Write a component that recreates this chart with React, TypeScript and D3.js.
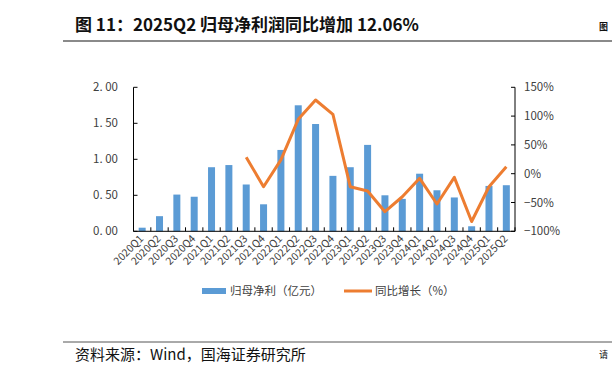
import React from "react";
import * as d3 from "d3";

const categories = ["2020Q1","2020Q2","2020Q3","2020Q4","2021Q1","2021Q2","2021Q3","2021Q4","2022Q1","2022Q2","2022Q3","2022Q4","2023Q1","2023Q2","2023Q3","2023Q4","2024Q1","2024Q2","2024Q3","2024Q4","2025Q1","2025Q2"];
const profit = [0.05,0.21,0.51,0.48,0.89,0.92,0.65,0.375,1.13,1.75,1.49,0.77,0.89,1.20,0.50,0.45,0.80,0.57,0.47,0.07,0.63,0.64];
const yoy: (number | null)[] = [null,null,null,null,null,null,28.5,-22.6,24,94.4,128,103,-22.6,-30,-66,-40,-8,-52.6,-6.3,-83,-22.6,12.06];
const leftTicks = [0,0.5,1,1.5,2];
const leftTickLabels = ["0. 00","0. 50","1. 00","1. 50","2. 00"];
const rightTicks = [-100,-50,0,50,100,150];
const rightTickLabels = ["\u2212100%","\u221250%","0%","50%","100%","150%"];
const legendLabels = ["归母净利（亿元）","同比增长（%）"];
const title = "图 11：2025Q2 归母净利润同比增加 12.06%";
const source = "资料来源：Wind，国海证券研究所";

const W = 612, H = 378;
const left = 133.5, right = 515, top = 87.3, bottom = 231.3;
const BLUE = "#5B9BD5", ORANGE = "#ED7D31";
const FONT = "'Noto Sans CJK SC', 'Liberation Sans', Arial, sans-serif";

export default function App() {
  const x = d3.scaleBand<string>().domain(categories).range([left, right]).paddingInner(0).paddingOuter(0);
  const yL = d3.scaleLinear().domain([0, 2]).range([bottom, top]);
  const yR = d3.scaleLinear().domain([-100, 150]).range([bottom, top]);
  const bw = 7;
  const line = d3.line<[string, number | null]>()
    .defined(d => d[1] !== null)
    .x(d => (x(d[0]) as number) + x.bandwidth() / 2)
    .y(d => yR(d[1] as number));
  const pts = categories.map((c, i) => [c, yoy[i]] as [string, number | null]);
  const tickXs = categories.map(c => x(c) as number).concat([right]);

  return (
    <svg width={W} height={H} style={{ position: "absolute", left: 0, top: 0, background: "#fff" }} fontFamily={FONT}>
      <rect width={W} height={H} fill="#fff" />
      {/* title */}
      <text x={75} y={31} fontSize={17} fontWeight="bold" fill="#111">{title}</text>
      <text x={599} y={30} fontSize={9} fontWeight="bold" fill="#111">图</text>
      <line x1={63} x2={612} y1={41} y2={41} stroke="#8a8a8a" strokeWidth={2} />
      {/* bars */}
      {categories.map((c, i) => (
        <rect key={c} x={(x(c) as number) + x.bandwidth() / 2 - bw / 2} y={yL(profit[i])} width={bw} height={bottom - yL(profit[i])} fill={BLUE} />
      ))}
      {/* axes */}
      <line x1={left} x2={left} y1={top} y2={bottom} stroke="#000" strokeWidth={1} />
      <line x1={right} x2={right} y1={top} y2={bottom} stroke="#000" strokeWidth={1} />
      <line x1={left} x2={right} y1={bottom} y2={bottom} stroke="#000" strokeWidth={1} />
      {leftTicks.map((t, i) => (
        <g key={"l" + t}>
          <line x1={left} x2={left + 4} y1={yL(t)} y2={yL(t)} stroke="#000" />
          <text x={118} y={yL(t)} dy="0.35em" textAnchor="end" fontSize={11.5} fill="#404040">{leftTickLabels[i]}</text>
        </g>
      ))}
      {rightTicks.map((t, i) => (
        <g key={"r" + t}>
          <line x1={right - 4} x2={right} y1={yR(t)} y2={yR(t)} stroke="#000" />
          <text x={524} y={yR(t)} dy="0.35em" textAnchor="start" fontSize={11.5} fill="#404040">{rightTickLabels[i]}</text>
        </g>
      ))}
      {tickXs.map((tx, i) => (
        <line key={"t" + i} x1={tx} x2={tx} y1={bottom} y2={bottom - 4} stroke="#000" />
      ))}
      {categories.map(c => {
        const cx = (x(c) as number) + x.bandwidth() / 2 + 2;
        const cy = bottom + 8;
        return (
          <text key={"x" + c} x={cx} y={cy} textAnchor="end" fontSize={10.5} fill="#404040" transform={`rotate(-45 ${cx} ${cy})`}>{c}</text>
        );
      })}
      {/* line */}
      <path d={line(pts) || ""} fill="none" stroke={ORANGE} strokeWidth={3} strokeLinejoin="round" />
      {/* legend */}
      <rect x={202} y={288} width={24} height={6} fill={BLUE} />
      <text x={230} y={291} dy="0.35em" fontSize={11.5} fill="#404040">{legendLabels[0]}</text>
      <line x1={344} x2={372} y1={291} y2={291} stroke={ORANGE} strokeWidth={3} />
      <text x={375} y={291} dy="0.35em" fontSize={11.5} fill="#404040">{legendLabels[1]}</text>
      {/* footer */}
      <line x1={63} x2={612} y1={342} y2={342} stroke="#555" strokeWidth={1} />
      <text x={75} y={355} dy="0.35em" fontSize={15} fill="#111">{source}</text>
      <text x={599} y={355} dy="0.35em" fontSize={9} fill="#111">请</text>
    </svg>
  );
}
